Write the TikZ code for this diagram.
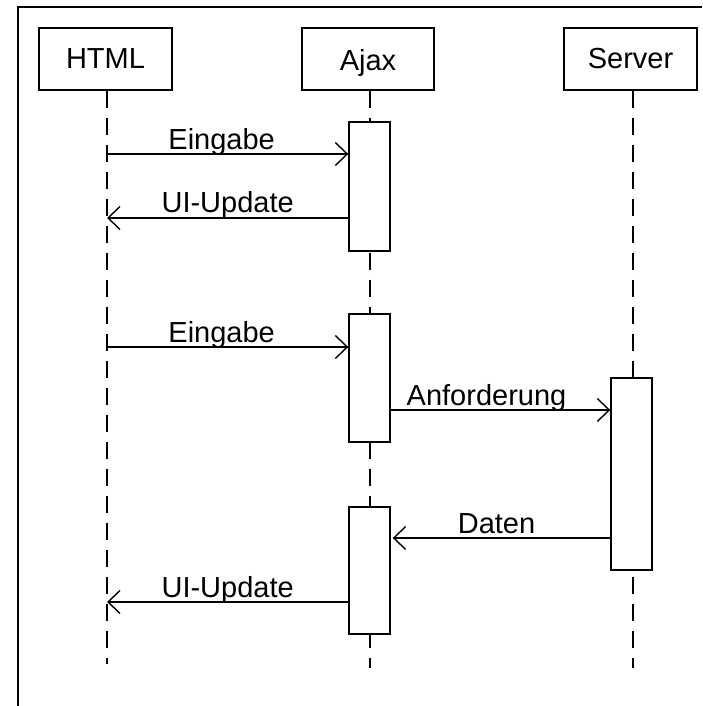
\documentclass[tikz,border=0pt]{standalone}
\usepackage{fontspec}
\setmainfont{Liberation Sans}
\usetikzlibrary{arrows.meta}
\begin{document}
\begin{tikzpicture}[x=1pt,y=-1pt, line width=1.4pt,
  actor/.style={draw, minimum width=133pt, minimum height=62pt, inner sep=0pt, text height=24pt, text depth=4pt, font=\fontsize{29}{34}\selectfont},
  act/.style={draw, fill=white, minimum width=41pt, inner sep=0pt},
  life/.style={dash pattern=on 17pt off 10pt},
  msg/.style={-{Straight Barb[length=12pt,width=23pt]}},
  lbl/.style={font=\fontsize{29}{34}\selectfont, anchor=base, inner sep=0pt}]
\useasboundingbox (0,0) rectangle (702,706);
\draw (18,706) -- (18,7) -- (702,7);
% actors
\node[actor] (html) at (105.5,59) {HTML};
\node[actor, minimum width=132pt, text height=26pt, text depth=2pt] (ajax) at (368,59) {Ajax};
\node[actor] (server) at (630.5,59) {Server};
% lifeline ends
\coordinate (hend) at (107,664);
\coordinate (aend) at (370,668);
\coordinate (send) at (633,668);
\draw[life] (hend |- html.south) -- (hend);
\draw[life] (aend |- ajax.south) -- (aend);
\draw[life] (send |- server.south) -- (send);
% activations
\node[act, minimum height=129pt] (a1) at (369.5,186.5) {};
\node[act, minimum height=128pt] (a2) at (369.5,378) {};
\node[act, minimum height=127pt] (a3) at (369.5,570.5) {};
\node[act, minimum height=192pt] (s1) at (631.5,474) {};
% message rows
\coordinate (h1) at (107,154);
\coordinate (h2) at (107,218);
\coordinate (h3) at (107,347);
\coordinate (y4) at (0,410);
\coordinate (y5) at (0,538);
\coordinate (h6) at (107,602);
% messages
\draw[msg] (h1) -- (a1.west |- h1) node[lbl, midway, yshift=5pt, xshift=-6pt] {Eingabe};
\draw[msg] (a1.west |- h2) -- (h2) node[lbl, midway, yshift=6pt] {UI-Update};
\draw[msg] (h3) -- (a2.west |- h3) node[lbl, midway, yshift=5pt, xshift=-6pt] {Eingabe};
\draw[msg] (a2.east |- y4) -- (s1.west |- y4) node[lbl, midway, yshift=5pt, xshift=-14pt] {Anforderung};
\draw[msg] (s1.west |- y5) -- ([xshift=2pt]a3.east |- y5) node[lbl, midway, yshift=5pt, xshift=-5pt] {Daten};
\draw[msg] (a3.west |- h6) -- (h6) node[lbl, midway, yshift=5pt] {UI-Update};
\end{tikzpicture}
\end{document}
